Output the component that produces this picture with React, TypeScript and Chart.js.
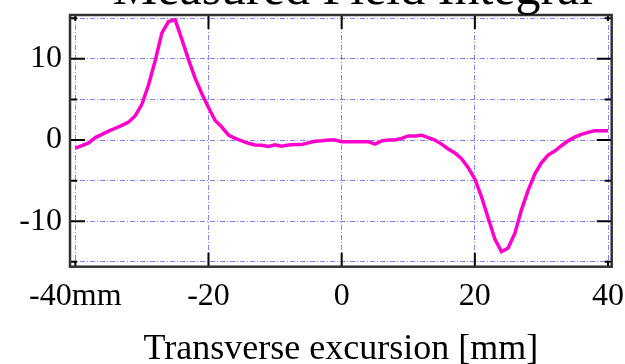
import React, { useEffect, useRef } from "react";
import { Chart, registerables } from "chart.js";

Chart.register(...registerables);

const titleText = "Measured Field Integral";
const xAxisTitle = "Transverse excursion [mm]";

const excursionMm = [
  -40, -39, -38, -37, -36, -35, -34, -33, -32, -31, -30, -29, -28, -27, -26, -25, -24, -23, -22, -21,
  -20, -19, -18, -17, -16, -15, -14, -13, -12, -11, -10, -9, -8, -7, -6, -5, -4, -3, -2, -1,
  0, 1, 2, 3, 4, 5, 6, 7, 8, 9, 10, 11, 12, 13, 14, 15, 16, 17, 18, 19,
  20, 21, 22, 23, 24, 25, 26, 27, 28, 29, 30, 31, 32, 33, 34, 35, 36, 37, 38, 39, 40,
];

const fieldIntegral = [
  -1.0, -0.7, -0.35, 0.3, 0.7, 1.1, 1.45, 1.8, 2.2, 3.0, 4.4, 6.8, 9.8, 13.2, 14.6, 14.8, 12.4, 9.9, 7.6, 5.7,
  4.0, 2.4, 1.6, 0.6, 0.2, -0.1, -0.4, -0.6, -0.65, -0.8, -0.6, -0.75, -0.6, -0.55, -0.55, -0.35, -0.15, -0.1, 0.0, 0.0,
  -0.2, -0.2, -0.2, -0.2, -0.2, -0.5, -0.1, 0.0, 0.0, 0.2, 0.5, 0.5, 0.6, 0.3, 0.0, -0.5, -1.1, -1.6, -2.3, -3.4,
  -4.8, -7.0, -9.6, -12.2, -13.75, -13.3, -11.5, -8.6, -6.2, -4.2, -2.8, -1.85, -1.35, -0.7, -0.1, 0.35, 0.7, 0.95, 1.15, 1.15, 1.15,
];

const xTickValues = [-40, -20, 0, 20, 40];
const yTickValues = [-15, -10, -5, 0, 5, 10, 15];

const FONT = "'Liberation Serif', 'Times New Roman', serif";
const GRID_COLOR = "rgba(100, 100, 255, 0.8)";

const framePlugin = {
  id: "frameAndTicks",
  afterDraw(chart: any) {
    const { ctx, chartArea, scales } = chart;
    const { left, right, top, bottom } = chartArea;
    ctx.save();
    ctx.strokeStyle = "#000";
    ctx.lineWidth = 2;
    for (const v of yTickValues) {
      const y = scales.y.getPixelForValue(v);
      const len = v % 10 === 0 ? 15 : 7;
      ctx.beginPath();
      ctx.moveTo(left, y);
      ctx.lineTo(left + len, y);
      ctx.moveTo(right, y);
      ctx.lineTo(right - len, y);
      ctx.stroke();
    }
    for (const v of xTickValues) {
      const x = scales.x.getPixelForValue(v);
      const len = Math.abs(v) === 40 ? 6 : 14;
      ctx.beginPath();
      ctx.moveTo(x, top);
      ctx.lineTo(x, top + len);
      ctx.moveTo(x, bottom);
      ctx.lineTo(x, bottom - len);
      ctx.stroke();
    }
    ctx.strokeStyle = "#333";
    ctx.lineWidth = 2.5;
    ctx.strokeRect(left, top, right - left, bottom - top);
    ctx.fillStyle = "#000";
    ctx.textAlign = "center";
    ctx.textBaseline = "alphabetic";
    ctx.font = `50px ${FONT}`;
    ctx.fillText(titleText, 353, 4);
    ctx.font = `36px ${FONT}`;
    ctx.fillText(xAxisTitle, (left + right) / 2, 359);
    ctx.restore();
  },
};

export default function App() {
  const canvasRef = useRef<HTMLCanvasElement | null>(null);

  useEffect(() => {
    const canvas = canvasRef.current;
    if (!canvas) return;
    const chart = new Chart(canvas, {
      type: "line",
      data: {
        datasets: [
          {
            data: excursionMm.map((x, i) => ({ x, y: fieldIntegral[i] })),
            borderColor: "#ff00cc",
            borderWidth: 3.5,
            pointRadius: 0,
            tension: 0,
            fill: false,
          },
        ],
      },
      options: {
        responsive: false,
        animation: false,
        devicePixelRatio: 1,
        layout: { padding: { top: 15, right: 13.3, left: 0, bottom: 0 } },
        plugins: {
          legend: { display: false },
          tooltip: { enabled: false },
          title: { display: false },
        },
        scales: {
          x: {
            type: "linear",
            min: -40.8,
            max: 40.55,
            afterBuildTicks: (scale: any) => {
              scale.ticks = xTickValues.map((v) => ({ value: v }));
            },
            afterFit: (scale: any) => {
              scale.height = 97.3;
              scale.paddingLeft = 0;
              scale.paddingRight = 0;
            },
            ticks: {
              autoSkip: false,
              maxRotation: 0,
              minRotation: 0,
              padding: 11,
              color: "#000",
              font: { family: FONT, size: 32 },
              callback: (v: any) => (Number(v) === -40 ? "-40mm" : String(v)),
            },
            grid: { color: GRID_COLOR, lineWidth: 1, drawTicks: false },
            border: { display: false, dash: [5, 2, 1, 2] },
          },
          y: {
            type: "linear",
            min: -15.6,
            max: 15.4,
            afterBuildTicks: (scale: any) => {
              scale.ticks = yTickValues.map((v) => ({ value: v }));
            },
            afterFit: (scale: any) => {
              scale.width = 70;
              scale.paddingTop = 0;
              scale.paddingBottom = 0;
            },
            ticks: {
              padding: 8,
              color: "#000",
              font: { family: FONT, size: 32 },
              callback: (v: any) => (Number(v) % 10 === 0 ? String(v) : ""),
            },
            grid: { color: GRID_COLOR, lineWidth: 1, drawTicks: false },
            border: { display: false, dash: [5, 2, 1, 2] },
          },
        },
      },
      plugins: [framePlugin],
    });
    return () => chart.destroy();
  }, []);

  return (
    <div style={{ position: "absolute", left: 0, top: 0, width: 625, height: 364 }}>
      <canvas ref={canvasRef} width={625} height={364} style={{ display: "block" }} />
    </div>
  );
}
